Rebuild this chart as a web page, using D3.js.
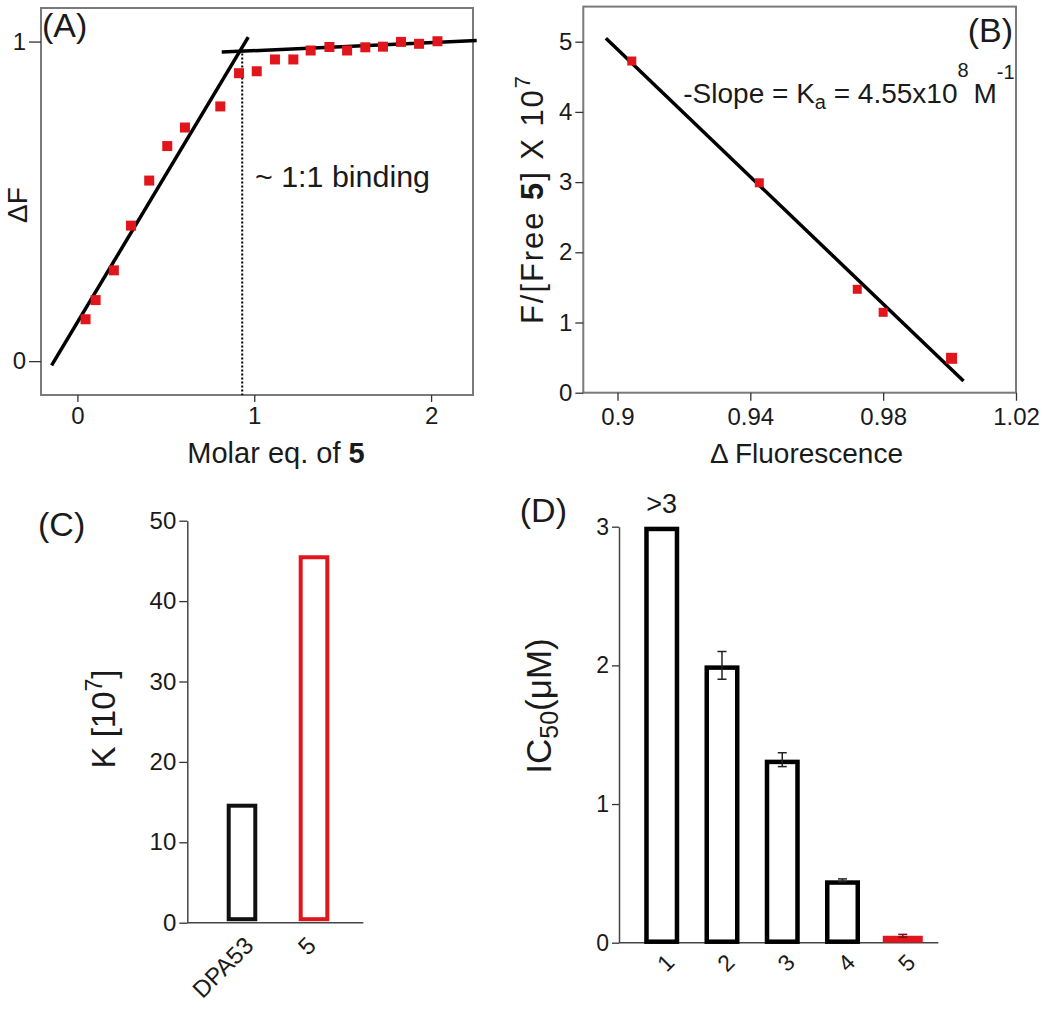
<!DOCTYPE html>
<html><head><meta charset="utf-8">
<script src="https://cdn.jsdelivr.net/npm/d3@7"></script>
<style>
body{margin:0;background:#fff}
svg{display:block}
text{font-family:"Liberation Sans",Arial,Helvetica,sans-serif;fill:#1a1a1a}
</style>
</head><body>
<svg id="chart" width="1050" height="1010"></svg>
<script>
// ---------- DATA ----------
// Panel A: titration
const molarEq = [0.046,0.103,0.206,0.303,0.406,0.508,0.608,0.808,0.914,1.014,1.117,1.221,1.319,1.425,1.525,1.628,1.728,1.830,1.932,2.036];
const deltaF  = [0.131,0.191,0.284,0.424,0.565,0.673,0.731,0.797,0.901,0.907,0.944,0.944,0.972,0.983,0.972,0.982,0.984,0.999,0.993,1.001];
const riseFitX = [-0.146, 0.966];
const riseFitY = [-0.013, 1.014];
const flatFitX = [0.816, 2.258];
const flatFitY = [0.967, 1.003];
const bindingX = 0.932;
const bindingY = [0.975, -0.106];
const aXTicks = [0, 1, 2];
const aYTicks = [0, 1];

// Panel B: Scatchard-type plot
const deltaFluor = [0.9043, 0.9427, 0.9722, 0.980, 1.0006];
const fOverFree  = [4.725, 2.99, 1.473, 1.145, 0.49];
const bFitX = [0.8965, 1.0042];
const bFitY = [5.048, 0.167];
const bXTicks = [0.9, 0.94, 0.98, 1.02];
const bYTicks = [0, 1, 2, 3, 4, 5];

// Panel C: binding constants
const cCategories = ["DPA53", "5"];
const cValues = [14.8, 45.7];
const cColors = ["#111111", "#e0161c"];
const cYTicks = [0, 10, 20, 30, 40, 50];

// Panel D: IC50
const dCategories = ["1", "2", "3", "4", "5"];
const dValues = [3.0, 2.0, 1.32, 0.45, 0.05];
const dErrors = [0, 0.1, 0.05, 0.01, 0.01];
const dYTicks = [0, 1, 2, 3];

const RED = "#e0161c";
const svg = d3.select("#chart");

function styleAxis(g, fs) {
  g.selectAll(".tick line").attr("stroke", "#333").attr("stroke-width", 1.3);
  g.selectAll(".tick text").attr("font-size", fs).attr("fill", "#1a1a1a")
    .attr("font-family", '"Liberation Sans",Arial,sans-serif');
}

// ---------- PANEL A ----------
{
  const x = d3.scaleLinear().domain([-0.206, 2.237]).range([41, 473]);
  const y = d3.scaleLinear().domain([-0.106, 1.105]).range([395, 8]);
  const g = svg.append("g");
  g.append("rect").attr("x", 41).attr("y", 8).attr("width", 432).attr("height", 387)
    .attr("fill", "none").attr("stroke", "#7a7a7a").attr("stroke-width", 2);
  const ax = g.append("g").attr("transform", "translate(0,395)")
    .call(d3.axisBottom(x).tickValues(aXTicks).tickSize(7).tickPadding(5).tickFormat(d3.format("d")));
  ax.select(".domain").remove();
  styleAxis(ax, 24);
  const ay = g.append("g").attr("transform", "translate(41,0)")
    .call(d3.axisLeft(y).tickValues(aYTicks).tickSize(12).tickPadding(3).tickFormat(d3.format("d")));
  ay.select(".domain").remove();
  styleAxis(ay, 24);

  const line = d3.line().x(d => x(d[0])).y(d => y(d[1]));
  g.append("path").attr("d", line(d3.zip(riseFitX, riseFitY)))
    .attr("stroke", "#000").attr("stroke-width", 3.5).attr("fill", "none");
  g.append("path").attr("d", line(d3.zip(flatFitX, flatFitY)))
    .attr("stroke", "#000").attr("stroke-width", 3.5).attr("fill", "none");
  g.append("line").attr("x1", x(bindingX)).attr("x2", x(bindingX))
    .attr("y1", y(bindingY[0])).attr("y2", y(bindingY[1]))
    .attr("stroke", "#000").attr("stroke-width", 2).attr("stroke-dasharray", "2,2");
  g.selectAll("rect.pt").data(d3.zip(molarEq, deltaF)).join("rect").attr("class", "pt")
    .attr("x", d => x(d[0]) - 5).attr("y", d => y(d[1]) - 5)
    .attr("width", 10).attr("height", 10).attr("fill", RED);

  g.append("text").attr("x", 255).attr("y", 187).attr("font-size", 29)
    .attr("textLength", 175).attr("lengthAdjust", "spacingAndGlyphs").text("~ 1:1 binding");
  g.append("text").attr("x", 42).attr("y", 37).attr("font-size", 34).text("(A)");
  const t = g.append("text").attr("x", 276).attr("y", 463).attr("font-size", 29).attr("text-anchor", "middle");
  t.append("tspan").text("Molar eq. of ");
  t.append("tspan").attr("font-weight", "bold").text("5");
  g.append("text").attr("transform", "translate(27,205) rotate(-90)").attr("text-anchor", "middle")
    .attr("font-size", 28).text("ΔF");
}

// ---------- PANEL B ----------
{
  const x = d3.scaleLinear().domain([0.8897, 1.02]).range([583.3, 1016]);
  const y = d3.scaleLinear().domain([0, 5.5]).range([392.7, 6.6]);
  const g = svg.append("g");
  g.append("rect").attr("x", 583.3).attr("y", 6.6).attr("width", 1016 - 583.3).attr("height", 392.7 - 6.6)
    .attr("fill", "none").attr("stroke", "#7a7a7a").attr("stroke-width", 2);
  const ax = g.append("g").attr("transform", "translate(0,392.7)")
    .call(d3.axisBottom(x).tickValues(bXTicks).tickSize(8).tickPadding(7).tickFormat(d => String(d)));
  ax.select(".domain").remove();
  styleAxis(ax, 24);
  const ay = g.append("g").attr("transform", "translate(583.3,0)")
    .call(d3.axisLeft(y).tickValues(bYTicks).tickSize(8).tickPadding(3).tickFormat(d3.format("d")));
  ay.select(".domain").remove();
  styleAxis(ay, 24);

  const line = d3.line().x(d => x(d[0])).y(d => y(d[1]));
  g.append("path").attr("d", line(d3.zip(bFitX, bFitY)))
    .attr("stroke", "#000").attr("stroke-width", 3.5).attr("fill", "none");
  g.selectAll("rect.pt").data(d3.zip(deltaFluor, fOverFree)).join("rect").attr("class", "pt")
    .attr("x", (d, i) => x(d[0]) - (i === 4 ? 5.5 : 4.5)).attr("y", (d, i) => y(d[1]) - (i === 4 ? 5.5 : 4.5))
    .attr("width", (d, i) => i === 4 ? 11 : 9).attr("height", (d, i) => i === 4 ? 11 : 9).attr("fill", RED);

  const ann = g.append("text").attr("x", 683.3).attr("y", 103.3).attr("font-size", 28);
  ann.append("tspan").text("-Slope = K");
  ann.append("tspan").attr("font-size", 20).attr("dy", 6).text("a");
  ann.append("tspan").attr("dy", -6).text(" = 4.55x10");
  ann.append("tspan").attr("font-size", 20).attr("dy", -26).text("8");
  ann.append("tspan").attr("dy", 26).attr("dx", -3).text(" M");
  ann.append("tspan").attr("font-size", 20).attr("dy", -24).text("-1");

  g.append("text").attr("x", 1013).attr("y", 42).attr("text-anchor", "end").attr("font-size", 34).text("(B)");
  g.append("text").attr("x", 806.5).attr("y", 463).attr("text-anchor", "middle").attr("font-size", 28).text("Δ Fluorescence");
  const yl = g.append("text").attr("transform", "translate(543,200) rotate(-90)").attr("text-anchor", "middle")
    .attr("font-size", 31).attr("textLength", 248).attr("lengthAdjust", "spacing");
  yl.append("tspan").text("F/[Free ");
  yl.append("tspan").attr("font-weight", "bold").text("5");
  yl.append("tspan").text("] X 10");
  yl.append("tspan").attr("font-size", 22).attr("dy", -13).text("7");
}

// ---------- PANEL C ----------
{
  const x = d3.scaleBand().domain(cCategories).range([206, 350]).padding(0);
  const y = d3.scaleLinear().domain([0, 50]).range([922.7, 520.7]);
  const g = svg.append("g");
  const ay = g.append("g").attr("transform", "translate(187.3,0)")
    .call(d3.axisLeft(y).tickValues(cYTicks).tickSize(8).tickSizeOuter(0).tickPadding(3));
  ay.select(".domain").attr("stroke", "#444").attr("stroke-width", 1.5);
  styleAxis(ay, 24);
  g.append("line").attr("x1", 187.3).attr("x2", 363.3).attr("y1", y(0)).attr("y2", y(0))
    .attr("stroke", "#444").attr("stroke-width", 1.5);
  const sw = 4, bw = 30.6;
  g.selectAll("rect.bar").data(cCategories).join("rect").attr("class", "bar")
    .attr("x", d => x(d) + x.bandwidth() / 2 - bw / 2 + sw / 2)
    .attr("width", bw - sw)
    .attr("y", (d, i) => y(cValues[i]) + sw / 2)
    .attr("height", (d, i) => y(0) - y(cValues[i]) - sw - 1.5)
    .attr("fill", "none").attr("stroke", (d, i) => cColors[i]).attr("stroke-width", sw);
  // rotated category labels; longer labels sit a little further right
  g.selectAll("text.xl").data(cCategories).join("text").attr("class", "xl")
    .attr("transform", d => `translate(${x(d) + x.bandwidth() / 2 + 1 + 2.4 * d.length},947) rotate(-45)`)
    .attr("text-anchor", "end").attr("font-size", 24).text(d => d);
  g.append("text").attr("x", 38).attr("y", 536).attr("font-size", 34).text("(C)");
  const yl = g.append("text").attr("transform", "translate(115,719) rotate(-90)").attr("text-anchor", "middle").attr("font-size", 33);
  yl.append("tspan").text("K [10");
  yl.append("tspan").attr("font-size", 23).attr("dy", -13).text("7");
  yl.append("tspan").attr("dy", 13).text("]");
}

// ---------- PANEL D ----------
{
  const x = d3.scaleBand().domain(dCategories).range([631.6, 932.9]).padding(0);
  const y = d3.scaleLinear().domain([0, 3]).range([942.7, 526.7]);
  const g = svg.append("g");
  const ay = g.append("g").attr("transform", "translate(619,0)")
    .call(d3.axisLeft(y).tickValues(dYTicks).tickSize(7).tickSizeOuter(0).tickPadding(3).tickFormat(d3.format("d")));
  ay.select(".domain").attr("stroke", "#444").attr("stroke-width", 1.5);
  styleAxis(ay, 23);
  g.append("line").attr("x1", 619).attr("x2", 938.3).attr("y1", y(0)).attr("y2", y(0))
    .attr("stroke", "#444").attr("stroke-width", 1.5);
  const sw = 4.5, bw = 35;
  dCategories.forEach((c, i) => {
    const cx = x(c) + x.bandwidth() / 2;
    const isRed = i === 4;
    if (isRed) {
      g.append("rect").attr("x", cx - 20).attr("width", 40)
        .attr("y", y(dValues[i])).attr("height", y(0) - y(dValues[i]))
        .attr("fill", RED);
    } else {
      g.append("rect").attr("x", cx - bw / 2 + sw / 2).attr("width", bw - sw)
        .attr("y", y(dValues[i]) + sw / 2).attr("height", y(0) - y(dValues[i]) - sw / 2 - 1)
        .attr("fill", "none").attr("stroke", "#000").attr("stroke-width", sw);
    }
    if (dErrors[i] > 0) {
      const e = g.append("g").attr("stroke", isRed ? "#7a1010" : "#222").attr("stroke-width", 1.5);
      e.append("line").attr("x1", cx).attr("x2", cx).attr("y1", y(dValues[i] + dErrors[i])).attr("y2", y(dValues[i] - dErrors[i]));
      e.append("line").attr("x1", cx - 4.5).attr("x2", cx + 4.5).attr("y1", y(dValues[i] + dErrors[i])).attr("y2", y(dValues[i] + dErrors[i]));
      e.append("line").attr("x1", cx - 4.5).attr("x2", cx + 4.5).attr("y1", y(dValues[i] - dErrors[i])).attr("y2", y(dValues[i] - dErrors[i]));
    }
    g.append("text")
      .attr("transform", `translate(${cx + 14},964) rotate(-45)`)
      .attr("text-anchor", "end").attr("font-size", 23).text(c);
  });
  g.append("text").attr("x", x("1") + x.bandwidth() / 2).attr("y", 513).attr("text-anchor", "middle")
    .attr("font-size", 27).text(">3");
  g.append("text").attr("x", 567).attr("y", 522).attr("text-anchor", "end").attr("font-size", 34).text("(D)");
  const yl = g.append("text").attr("transform", "translate(551,706) rotate(-90)").attr("text-anchor", "middle").attr("font-size", 35);
  yl.append("tspan").text("IC");
  yl.append("tspan").attr("font-size", 25).attr("dy", 7).text("50");
  yl.append("tspan").attr("dy", -7).text("(μM)");
}
</script>
</body></html>
